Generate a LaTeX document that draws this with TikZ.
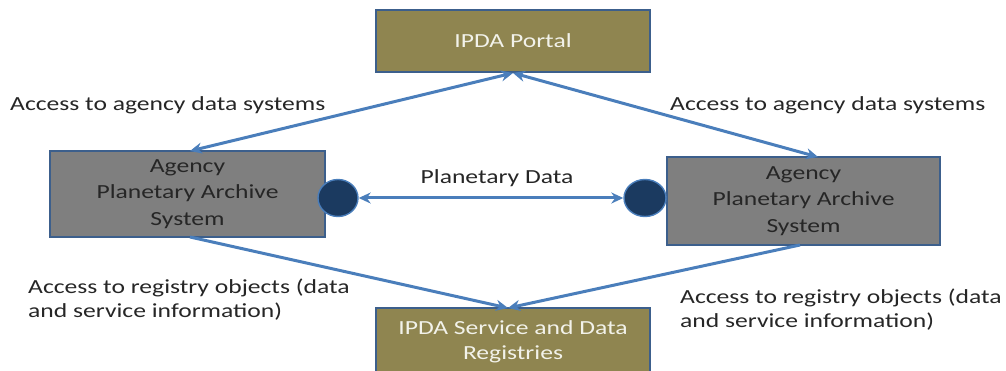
\documentclass[tikz,border=0pt]{standalone}
\usepackage{fontspec}
\setmainfont{Carlito}[FakeStretch=1.28]
\usetikzlibrary{arrows.meta,shapes.geometric}
\definecolor{olive}{HTML}{8F8550}
\definecolor{boxline}{HTML}{3C5F8C}
\definecolor{arrowblue}{HTML}{4A7EBB}
\definecolor{graybox}{HTML}{7F7F7F}
\definecolor{dotfill}{HTML}{1B3A60}
\definecolor{lighttext}{HTML}{F2F2EA}
\tikzset{
  olivebox/.style={draw=boxline, line width=1.8pt, fill=olive, text=lighttext, align=center, font=\fontsize{20}{25}\selectfont, inner sep=0pt},
  graysys/.style={draw=boxline, line width=1.8pt, fill=graybox, text=black!85, align=center, font=\fontsize{20}{26.5}\selectfont, inner sep=0pt},
  dot/.style={ellipse, draw=arrowblue, line width=1.4pt, fill=dotfill, inner sep=0pt},
  conn/.style={draw=arrowblue, line width=3pt, -{Stealth[length=12pt,width=11pt]}},
  bconn/.style={draw=arrowblue, line width=3pt, {Stealth[length=12pt,width=11pt]}-{Stealth[length=12pt,width=11pt]}},
  lbl/.style={font=\fontsize{20}{24}\selectfont, text=black!85, align=left, inner sep=0pt}
}
\begin{document}
\begin{tikzpicture}[x=1pt,y=-1pt]
\useasboundingbox (0,0) rectangle (1006,371);
\node[olivebox, minimum width=274pt, minimum height=62pt] (portal) at (513,41) {IPDA Portal};
\node[graysys, minimum width=275pt, minimum height=86pt] (left) at (187.5,194) {Agency\\Planetary Archive\\System};
\node[graysys, minimum width=273pt, minimum height=88pt] (right) at (803.5,201) {Agency\\Planetary Archive\\System};
\node[olivebox, minimum width=274pt, minimum height=68pt] (reg) at (513,342) {IPDA Service and Data\\Registries};
\node[dot, minimum width=40pt, minimum height=37pt] (ldot) at (338,198) {};
\node[dot, minimum width=42pt, minimum height=37pt] (rdot) at (645,198) {};
\coordinate (pt) at (513,73);
\coordinate (lt) at (190,151);
\coordinate (rt) at (818,157);
\coordinate (lb) at (190,237);
\coordinate (rb) at (800,245);
\coordinate (rg) at (508,308);
\draw[bconn] (lt) -- (pt);
\draw[bconn] (rt) -- (pt);
\draw[bconn] (ldot) -- (rdot);
\draw[conn] (lb) -- (rg);
\draw[conn] (rb) -- (rg);
\node[lbl, anchor=west] (l1) at (10,105) {Access to agency data systems};
\node[lbl, anchor=west] (l2) at (670,105) {Access to agency data systems};
\node[lbl, anchor=center] (l3) at (497,178) {Planetary Data};
\node[lbl, anchor=north west] (l4) at (28,279) {Access to registry objects (data\\and service information)};
\node[lbl, anchor=north west] (l5) at (680,289) {Access to registry objects (data\\and service information)};
\end{tikzpicture}
\end{document}
